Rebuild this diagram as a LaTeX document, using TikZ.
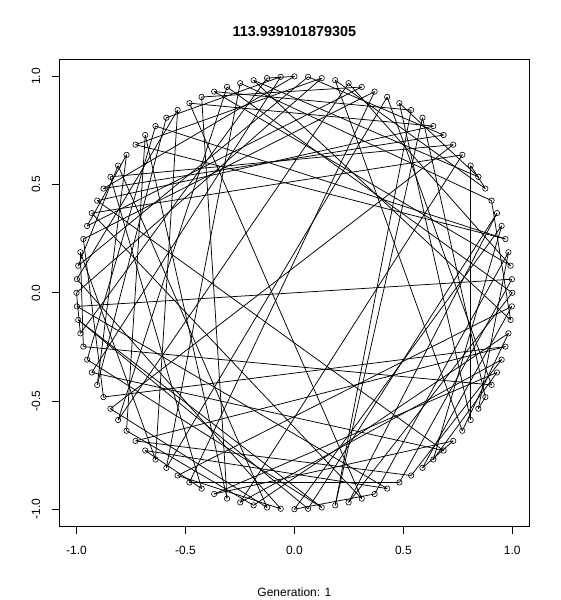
\documentclass[tikz,border=0pt]{standalone}
\usepackage{fontspec}
\setmainfont{Liberation Sans}
\usetikzlibrary{calc}

\begin{document}
\begin{tikzpicture}[x=1pt,y=1pt,
    citynode/.style={circle,draw,inner sep=0,minimum size=5.4pt,line width=0.6pt},
    ticklabel/.style={font=\fontsize{12}{14}\selectfont,inner sep=0}]
    \useasboundingbox (0,0) rectangle (560,600);

    % frame of the plot region
    \draw[line width=0.8pt] (59.04,73.44) rectangle (529.76,540.96);

    % ticks and labels
    \foreach \t [count=\i] in {-1.0,-0.5,0.0,0.5,1.0} {
        \draw[line width=0.8pt] ({294.4+217.9*\t},73.44) -- ({294.4+217.9*\t},66.24);
        \node[ticklabel] (xt\i) at ({294.4+217.9*\t},50) {\t};
        \draw[line width=0.8pt] (59.04,{307.2+216.4*\t}) -- (51.84,{307.2+216.4*\t});
        \node[ticklabel,rotate=90] (yt\i) at (36,{307.2+216.4*\t}) {\t};
    }

    % cities on the unit circle
    \foreach \k in {0,...,99}
        \node[citynode] (c\k) at ({294.4+217.9*cos(90+3.6*\k)},{307.2+216.4*sin(90+3.6*\k)}) {};

    % the tour
    \foreach \a [remember=\a as \b (initially 2)] in {0,17,88,99,23,15,48,34,87,16,
        43,38,57,26,76,58,42,94,21,33,71,37,59,70,46,86,19,55,8,89,
        18,62,31,1,10,32,14,20,95,7,45,12,36,47,72,64,97,83,85,65,
        92,84,3,73,82,4,40,93,68,29,22,39,9,24,49,41,74,60,63,44,
        69,61,80,50,56,78,66,67,90,53,91,6,77,96,35,5,75,54,81,51,
        27,52,30,11,79,13,98,25,28,2}
        \draw[line width=0.75pt] (c\b.center) -- (c\a.center);

    \node[font=\bfseries\fontsize{14.4}{17}\selectfont] (title) at (294.4,568) {113.939101879305};
    \node[ticklabel] (gen) at (294.4,8) {Generation: 1};
\end{tikzpicture}
\end{document}
